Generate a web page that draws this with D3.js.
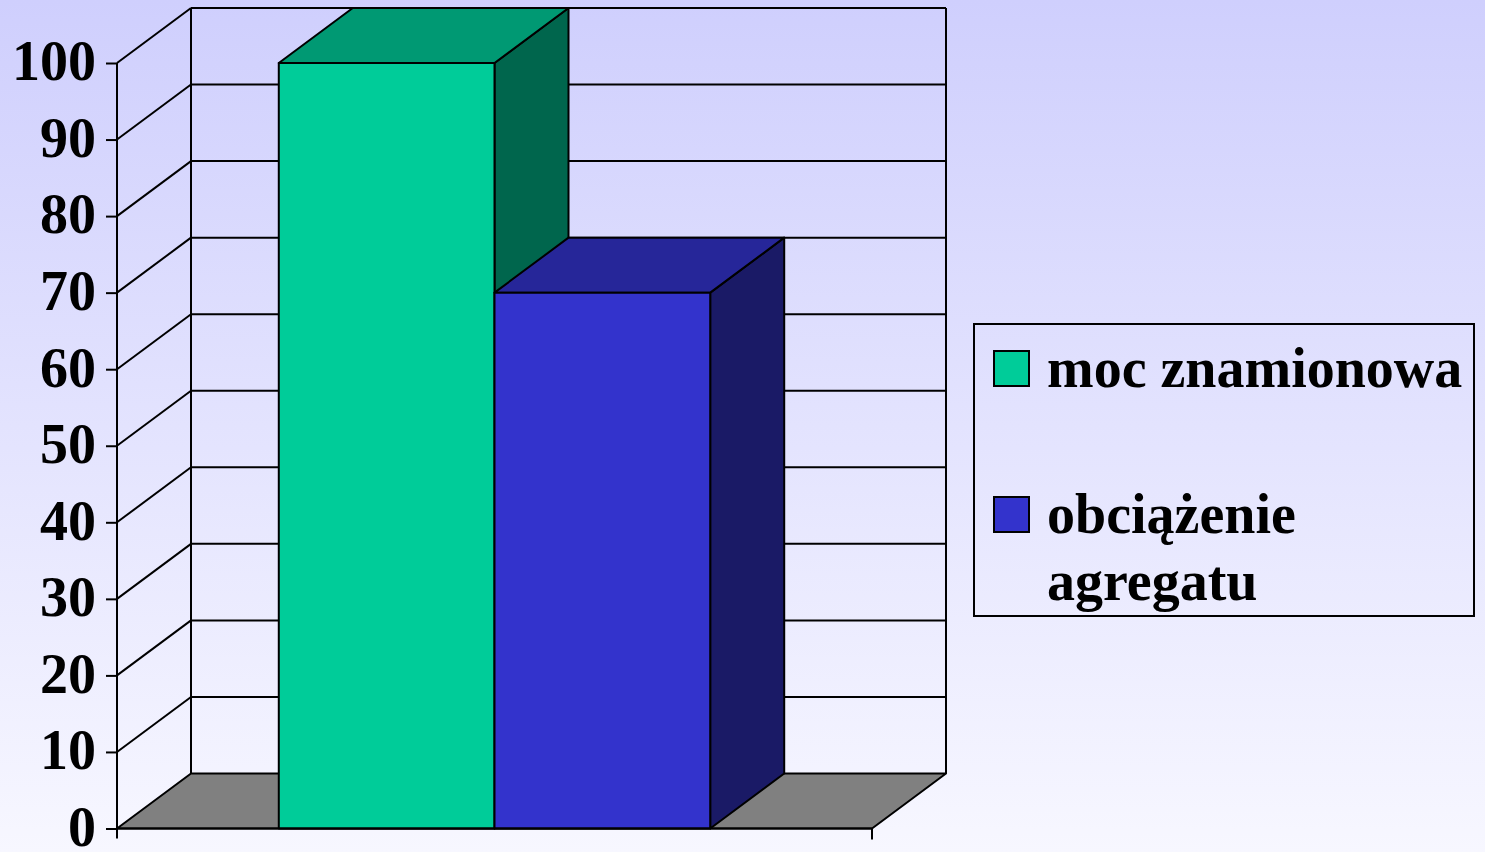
<!DOCTYPE html>
<html>
<head>
<meta charset="utf-8">
<script src="https://d3js.org/d3.v7.min.js"></script>
<style>
  body { margin: 0; overflow: hidden; }
  text { font-family: "Liberation Serif", "Times New Roman", serif; font-weight: bold; }
</style>
</head>
<body>
<div id="chart"></div>
<script>
// data
var seriesNames = ["moc znamionowa", "obciążenie agregatu"];
var legendLines = [["moc znamionowa"], ["obciążenie", "agregatu"]];
var seriesValues = [100, 70];
var tickValues = [0, 10, 20, 30, 40, 50, 60, 70, 80, 90, 100];
var frontColors = ["#00cc99", "#3333cc"];
var topColors = ["#009973", "#262699"];
var sideColors = ["#00664d", "#1a1a66"];

var W = 1485, H = 852;
var dx = 74, dy = -55; // depth offset

var svg = d3.select("#chart").append("svg")
    .attr("width", W)
    .attr("height", H);

var grad = svg.append("defs").append("linearGradient")
    .attr("id", "bg")
    .attr("x1", 0).attr("y1", 0).attr("x2", 0).attr("y2", 1);
grad.append("stop").attr("offset", "0%").attr("stop-color", "#cfcffd");
grad.append("stop").attr("offset", "100%").attr("stop-color", "#f7f7ff");

svg.append("rect").attr("width", W).attr("height", H).attr("fill", "url(#bg)");

var y = d3.scaleLinear().domain([0, 100]).range([828.5, 63]);
var x = d3.scaleBand().domain(seriesNames).range([117, 872])
    .paddingInner(0).paddingOuter(0.75);

var grid = svg.append("g")
    .attr("stroke", "#000")
    .attr("stroke-width", 2)
    .attr("fill", "none");

// back wall horizontal grid
grid.selectAll(".hg").data(tickValues.slice(1)).enter().append("line")
    .attr("x1", 117 + dx).attr("x2", 872 + dx)
    .attr("y1", function(d) { return y(d) + dy; })
    .attr("y2", function(d) { return y(d) + dy; });

// side wall diagonals
grid.selectAll(".dg").data(tickValues.slice(1)).enter().append("line")
    .attr("x1", 117).attr("x2", 117 + dx)
    .attr("y1", function(d) { return y(d); })
    .attr("y2", function(d) { return y(d) + dy; });

// wall edges
grid.append("line").attr("x1", 117 + dx).attr("x2", 117 + dx)
    .attr("y1", y(100) + dy).attr("y2", y(0) + dy);
grid.append("line").attr("x1", 872 + dx).attr("x2", 872 + dx)
    .attr("y1", y(100) + dy).attr("y2", y(0) + dy);

// floor
svg.append("polygon")
    .attr("points", [[117, y(0)], [872, y(0)], [872 + dx, y(0) + dy], [117 + dx, y(0) + dy]].join(" "))
    .attr("fill", "#808080")
    .attr("stroke", "#000")
    .attr("stroke-width", 2)
    .attr("stroke-linejoin", "round");

// bars
var bars = svg.selectAll(".bar").data(seriesValues).enter().append("g")
    .attr("stroke", "#000")
    .attr("stroke-width", 2)
    .attr("stroke-linejoin", "round");

bars.append("polygon")
    .attr("fill", function(d, i) { return sideColors[i]; })
    .attr("points", function(d, i) {
        var x1 = x(seriesNames[i]) + x.bandwidth();
        return [[x1, y(d)], [x1 + dx, y(d) + dy], [x1 + dx, y(0) + dy], [x1, y(0)]].join(" ");
    });
bars.append("polygon")
    .attr("fill", function(d, i) { return topColors[i]; })
    .attr("points", function(d, i) {
        var x0 = x(seriesNames[i]), x1 = x0 + x.bandwidth();
        return [[x0, y(d)], [x1, y(d)], [x1 + dx, y(d) + dy], [x0 + dx, y(d) + dy]].join(" ");
    });
bars.append("rect")
    .attr("fill", function(d, i) { return frontColors[i]; })
    .attr("x", function(d, i) { return x(seriesNames[i]); })
    .attr("width", x.bandwidth())
    .attr("y", function(d) { return y(d); })
    .attr("height", function(d) { return y(0) - y(d); });

// value axis
var axis = svg.append("g")
    .attr("transform", "translate(117,0)")
    .call(d3.axisLeft(y).tickValues(tickValues).tickSize(11).tickSizeOuter(0).tickPadding(10));
axis.select(".domain").remove();
axis.selectAll(".tick line").attr("stroke", "#000").attr("stroke-width", 2);
axis.selectAll(".tick text")
    .attr("font-size", 56)
    .attr("fill", "#000")
    .attr("dy", "0.3em")
    .style("font-family", "'Liberation Serif', 'Times New Roman', serif")
    .style("font-weight", "bold");

svg.append("line").attr("x1", 117).attr("x2", 117)
    .attr("y1", y(100)).attr("y2", y(0) + 10)
    .attr("stroke", "#000").attr("stroke-width", 2);

// category axis
svg.append("line").attr("x1", 117).attr("x2", 872)
    .attr("y1", y(0)).attr("y2", y(0))
    .attr("stroke", "#000").attr("stroke-width", 2);
svg.append("line").attr("x1", 872).attr("x2", 872)
    .attr("y1", y(0)).attr("y2", y(0) + 11)
    .attr("stroke", "#000").attr("stroke-width", 2);

// legend
var legend = svg.append("g");
legend.append("rect")
    .attr("x", 974).attr("y", 324).attr("width", 500).attr("height", 292)
    .attr("fill", "none").attr("stroke", "#000").attr("stroke-width", 2);

var items = legend.selectAll(".item").data(legendLines).enter().append("g")
    .attr("transform", function(d, i) { return "translate(0," + [0, 146][i] + ")"; });
items.append("rect")
    .attr("x", 994).attr("y", 351).attr("width", 35).attr("height", 35)
    .attr("fill", function(d, i) { return frontColors[i]; })
    .attr("stroke", "#000").attr("stroke-width", 2);
items.append("text")
    .attr("x", 1047).attr("y", 387)
    .attr("font-size", 56)
    .selectAll("tspan").data(function(d) { return d; }).enter().append("tspan")
    .attr("x", 1047)
    .attr("dy", function(d, i) { return i ? 67 : 0; })
    .text(function(d) { return d; });
</script>
</body>
</html>
